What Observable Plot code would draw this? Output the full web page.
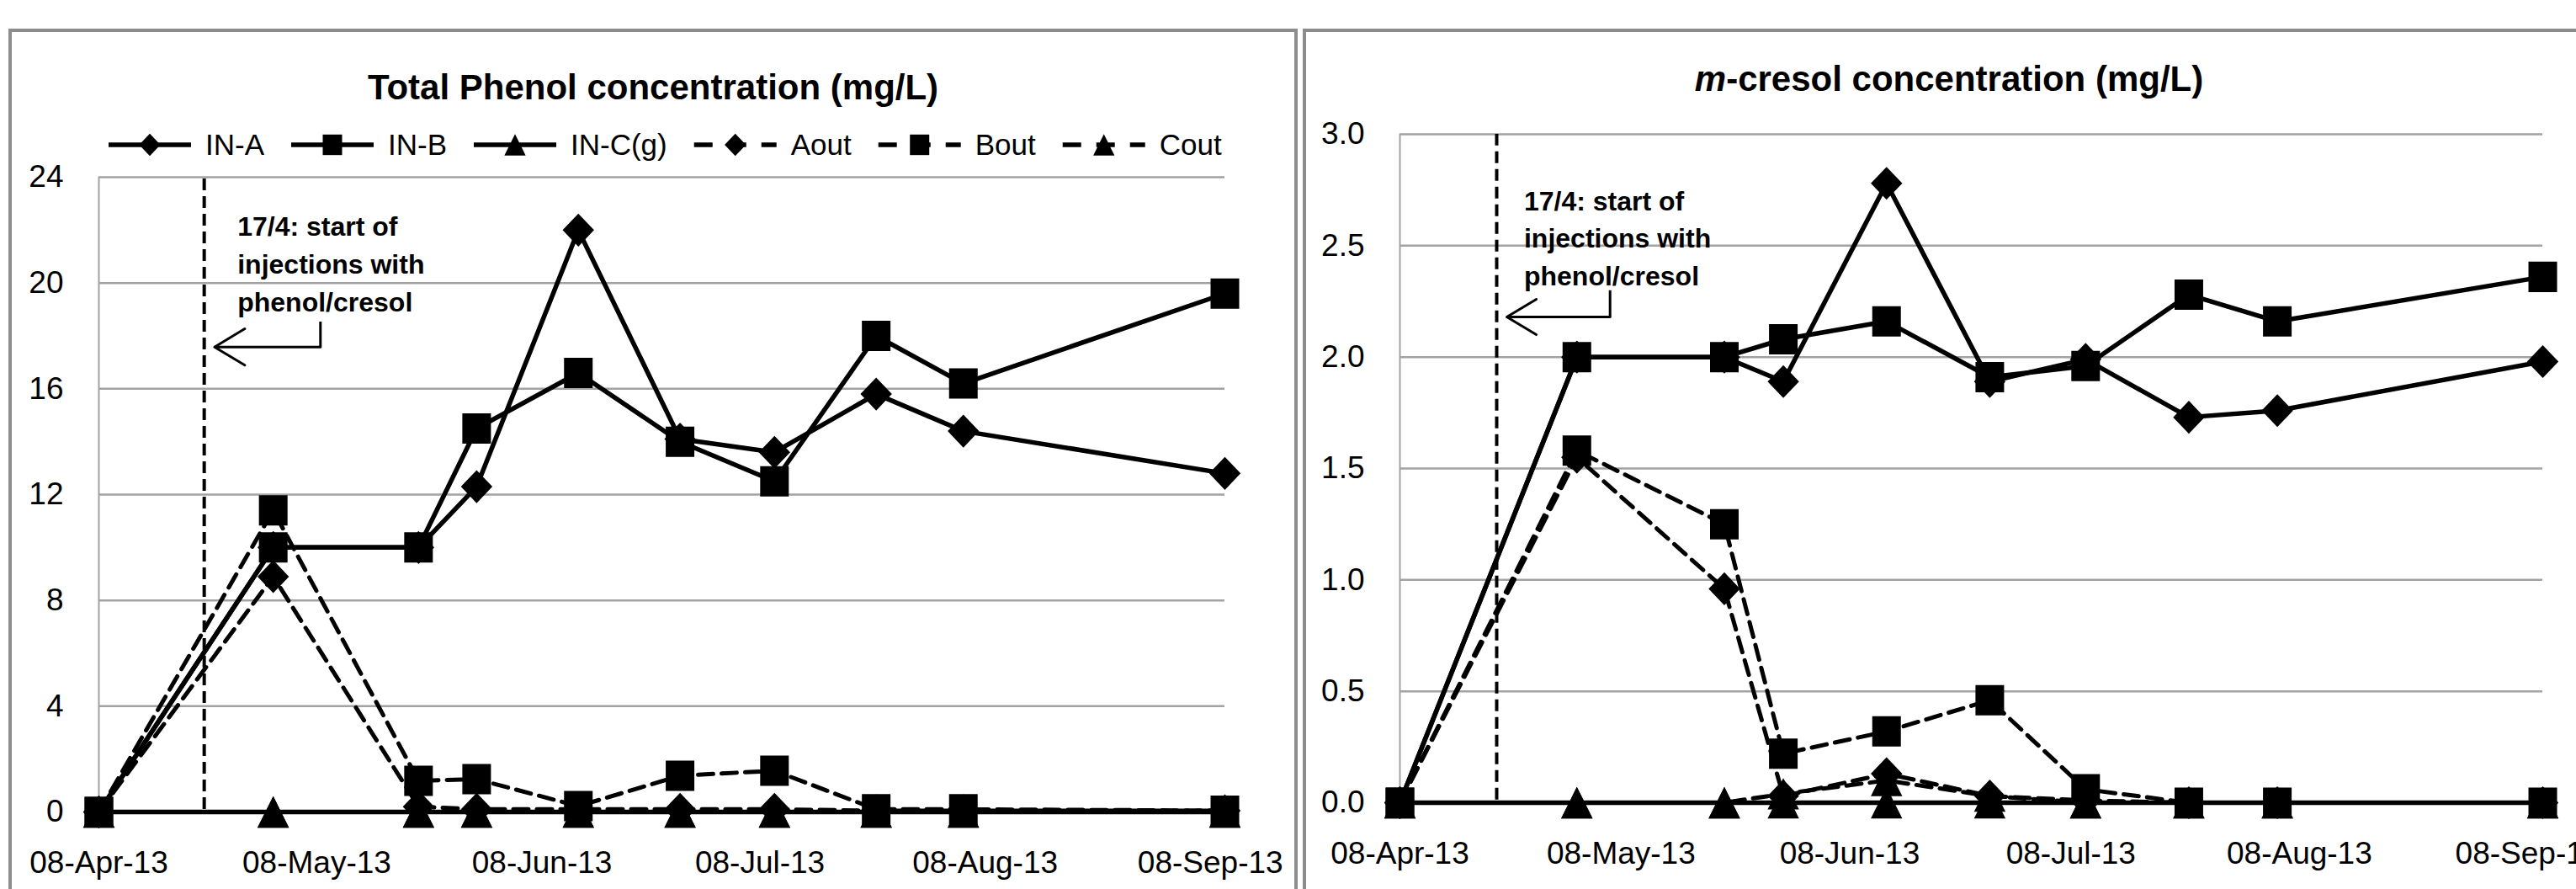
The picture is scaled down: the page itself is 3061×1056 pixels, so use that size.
<!DOCTYPE html>
<html><head><meta charset="utf-8">
<script src="https://cdn.jsdelivr.net/npm/d3@7"></script>
<script src="https://cdn.jsdelivr.net/npm/@observablehq/plot@0.6"></script>
<style>
html,body{margin:0;padding:0;background:#fff;width:3061px;height:1056px;overflow:hidden;}
#page{position:relative;width:3061px;height:1056px;font-family:"Liberation Sans",Arial,sans-serif;overflow:hidden;}
.panel{position:absolute;border:4px solid #8c8c8c;box-sizing:border-box;background:#fff;}
.chart{position:absolute;top:0;}
</style></head><body><div id="page"></div>
<script>
// ---------------- data ----------------
const dates = ["2013-04-08","2013-05-02","2013-05-22","2013-05-30","2013-06-13","2013-06-27","2013-07-10","2013-07-24","2013-08-05","2013-09-10"];
const seriesNames = ["IN-A","IN-B","IN-C(g)","Aout","Bout","Cout"];

// Total phenol (mg/L)
const phenolINA  = [0, 10, 10, 12.3, 22.0, 14.1, 13.6, 15.8, 14.4, 12.8];
const phenolINB  = [0, 10, 10, 14.5, 16.6, 14.0, 12.5, 18.0, 16.2, 19.6];
const phenolINC  = [0, 0, 0, 0, 0, 0, 0, 0, 0, 0];
const phenolAout = [0, 8.9, 0.2, 0.1, 0.1, 0.1, 0.1, 0.05, 0.05, 0.05];
const phenolBout = [0, 11.4, 1.18, 1.24, 0.22, 1.37, 1.56, 0.1, 0.1, 0.05];
const phenolCout = [0, 0, 0, 0, 0, 0, 0, 0, 0, 0];

// m-cresol (mg/L)
const cresolINA  = [0, 2.0, 2.0, 1.89, 2.78, 1.89, 1.99, 1.73, 1.76, 1.98];
const cresolINB  = [0, 2.0, 2.0, 2.08, 2.16, 1.91, 1.96, 2.28, 2.16, 2.36];
const cresolINC  = [0, 0, 0, 0, 0, 0, 0, 0, 0, 0];
const cresolAout = [0, 1.55, 0.96, 0.03, 0.13, 0.03, 0.01, 0, 0, 0];
const cresolBout = [0, 1.58, 1.25, 0.22, 0.32, 0.46, 0.06, 0, 0, 0];
const cresolCout = [0, 0, 0, 0.04, 0.1, 0.03, 0, 0, 0, 0];

const phenolTicks = [0, 4, 8, 12, 16, 20, 24];
const cresolTicks = [0, 0.5, 1.0, 1.5, 2.0, 2.5, 3.0];
const xTickDates = ["2013-04-08","2013-05-08","2013-06-08","2013-07-08","2013-08-08","2013-09-08"];
const xDomainDates = ["2013-04-08","2013-09-10"];

const chartTitles = ["Total Phenol concentration (mg/L)", "-cresol concentration (mg/L)"];
const annotationLines = ["17/4: start of", "injections with", "phenol/cresol"];
// annotation anchors in data space: [ruleDate, textDate, textValue, stemDate, stemTop, stemBottom, tipDate]
const phenolAnnotation = ["2013-04-22T12:00Z", "2013-04-27T02:00Z", 22.8, "2013-05-08T12:00Z", 18.54, 17.58, "2013-04-23T22:00Z"];
const cresolAnnotation = ["2013-04-21T03:00Z", "2013-04-24T20:00Z", 2.78, "2013-05-06T12:00Z", 2.30, 2.18, "2013-04-22T12:00Z"];

// ---------------- styling helpers ----------------
const pd = s => new Date(s.length === 10 ? s + "T00:00Z" : s);
const SYM = {
  diamond: {draw(c, s){const r=Math.sqrt(s/Math.PI), w=r*1.1, h=r*1.15; c.moveTo(0,-h); c.lineTo(w,0); c.lineTo(0,h); c.lineTo(-w,0); c.closePath();}},
  square:  {draw(c, s){const r=Math.sqrt(s/Math.PI), w=r, h=r*1.06; c.moveTo(-w,-h); c.lineTo(w,-h); c.lineTo(w,h); c.lineTo(-w,h); c.closePath();}},
  triangle:{draw(c, s){const r=Math.sqrt(s/Math.PI), w=r*1.1, h=r*1.1; c.moveTo(0,-h); c.lineTo(w,h); c.lineTo(-w,h); c.closePath();}}
};
const seriesStyle = [
  {sym: SYM.diamond, dashed: false},
  {sym: SYM.square, dashed: false},
  {sym: SYM.triangle, dashed: false},
  {sym: SYM.diamond, dashed: true},
  {sym: SYM.square, dashed: true},
  {sym: SYM.triangle, dashed: true}
];
const DASH = "18,10";
const GRID = "#a2a2a2";

function buildChart({values, ticks, tickFormat, width, height, mL, mR, mT, mB, annot}) {
  const marks = [];
  const top = ticks[ticks.length - 1];
  marks.push(Plot.gridY(ticks.filter(t => t > 0), {stroke: GRID, strokeOpacity: 1, strokeWidth: 2.5}));
  marks.push(Plot.ruleX([pd(xDomainDates[0])], {stroke: GRID, strokeWidth: 2}));
  marks.push(Plot.ruleY([0], {stroke: GRID, strokeWidth: 2}));
  marks.push(Plot.axisY({ticks, tickSize: 0, tickPadding: 42, tickFormat, label: null}));
  marks.push(Plot.axisX({ticks: xTickDates.map(pd), tickSize: 0, tickPadding: 46, tickFormat: d3.utcFormat("%d-%b-%y"), label: null}));
  // annotation
  const a = {rule: pd(annot[0]), tx: pd(annot[1]), ty: annot[2], sx: pd(annot[3]), s0: annot[4], s1: annot[5], tip: pd(annot[6])};
  marks.push(Plot.ruleX([a], {x: "rule", y1: top * 0.004, y2: top, stroke: "black", strokeWidth: 4, strokeDasharray: "14,7"}));
  marks.push(Plot.text([a], {x: "tx", y: "ty", text: () => annotationLines.join("\n"), textAnchor: "start", lineAnchor: "top", lineHeight: 1.4, fontSize: 32, fontWeight: "bold", fill: "black"}));
  marks.push(Plot.link([a], {x1: "sx", y1: "s0", x2: "sx", y2: "s1", stroke: "black", strokeWidth: 3}));
  marks.push(Plot.arrow([a], {x1: "sx", y1: "s1", x2: "tip", y2: "s1", stroke: "black", strokeWidth: 3, headLength: 28, headAngle: 62, insetStart: 0, insetEnd: 0}));
  // series
  values.forEach((vals, i) => {
    const rows = dates.map((d, j) => ({date: pd(d), value: vals[j]}));
    const st = seriesStyle[i];
    marks.push(Plot.line(rows, {x: "date", y: "value", stroke: "black", strokeWidth: st.dashed ? 5 : 5.5, strokeDasharray: st.dashed ? DASH : null, strokeLinejoin: "round"}));
    marks.push(Plot.dot(rows, {x: "date", y: "value", symbol: st.sym, r: 17, fill: "black", stroke: "none"}));
  });
  return Plot.plot({
    width, height,
    marginLeft: mL, marginRight: mR, marginTop: mT, marginBottom: mB,
    x: {type: "utc", domain: xDomainDates.map(pd)},
    y: {domain: [ticks[0], top]},
    style: {fontFamily: "'Liberation Sans', Arial, sans-serif", fontSize: "37px", color: "#000", background: "none", maxWidth: "none", overflow: "visible"},
    marks
  });
}

const page = document.getElementById("page");
// panels (chart frames)
const p1 = document.createElement("div"); p1.className = "panel";
Object.assign(p1.style, {left: "10px", top: "34px", width: "1532px", height: "1200px"}); page.appendChild(p1);
const p2 = document.createElement("div"); p2.className = "panel";
Object.assign(p2.style, {left: "1548px", top: "34px", width: "1600px", height: "1200px"}); page.appendChild(p2);

const c1 = buildChart({
  values: [phenolINA, phenolINB, phenolINC, phenolAout, phenolBout, phenolCout],
  ticks: phenolTicks, tickFormat: d3.format("d"),
  width: 1545, height: 1056, mL: 117, mR: 90, mT: 210, mB: 92, annot: phenolAnnotation
});
const w1 = document.createElement("div"); w1.className = "chart"; w1.style.left = "0px"; w1.appendChild(c1); page.appendChild(w1);

const c2 = buildChart({
  values: [cresolINA, cresolINB, cresolINC, cresolAout, cresolBout, cresolCout],
  ticks: cresolTicks, tickFormat: d3.format(".1f"),
  width: 1511, height: 1056, mL: 113, mR: 40, mT: 159, mB: 103, annot: cresolAnnotation
});
const w2 = document.createElement("div"); w2.className = "chart"; w2.style.left = "1550px"; w2.appendChild(c2); page.appendChild(w2);

// overlay: titles + legend
const ov = d3.create("svg").attr("width", 3061).attr("height", 1056)
  .style("position", "absolute").style("left", "0px").style("top", "0px")
  .style("font-family", "'Liberation Sans', Arial, sans-serif");
ov.append("text").attr("x", 776).attr("y", 118).attr("text-anchor", "middle")
  .attr("font-size", 42).attr("font-weight", "bold").text(chartTitles[0]);
const t2 = ov.append("text").attr("x", 2316).attr("y", 108).attr("text-anchor", "middle")
  .attr("font-size", 42).attr("font-weight", "bold");
t2.append("tspan").attr("font-style", "italic").text("m");
t2.append("tspan").text(chartTitles[1]);
page.appendChild(ov.node());

const lg = ov.append("g");
let cx = 129;
const ly = 172;
seriesNames.forEach((name, i) => {
  const st = seriesStyle[i];
  const sampleLen = 98;
  lg.append("line").attr("x1", cx).attr("x2", cx + sampleLen).attr("y1", ly).attr("y2", ly)
    .attr("stroke", "black").attr("stroke-width", 5.5)
    .attr("stroke-dasharray", st.dashed ? "22,18" : null);
  const p = d3.path(); st.sym.draw(p, Math.PI * 11.5 * 11.5);
  lg.append("path").attr("d", p.toString()).attr("transform", `translate(${cx + sampleLen / 2},${ly})`).attr("fill", "black");
  const tx = lg.append("text").attr("x", cx + sampleLen + 17).attr("y", ly + 12).attr("font-size", 35).text(name);
  const w = tx.node().getComputedTextLength();
  cx += sampleLen + 17 + w + 32;
});
</script></body></html>
